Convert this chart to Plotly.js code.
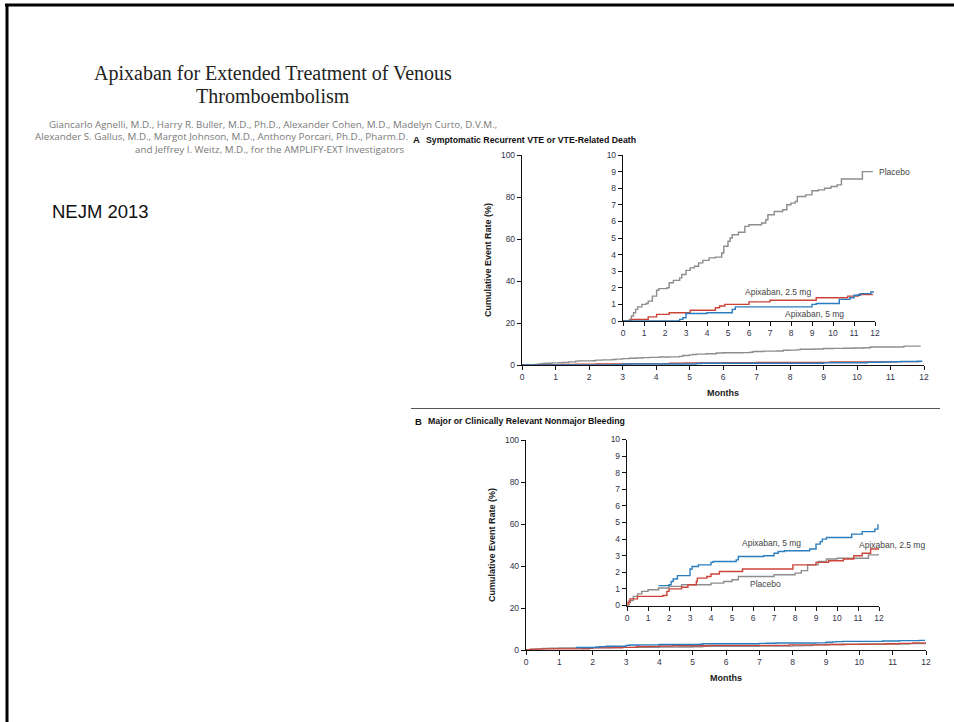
<!DOCTYPE html>
<html>
<head>
<meta charset="utf-8">
<script src="https://cdn.plot.ly/plotly-3.0.1.min.js"></script>
<style>
  html, body { margin: 0; padding: 0; background: #ffffff; }
  #chart { width: 954px; height: 722px; }
</style>
</head>
<body>
<div id="chart"></div>
<script>
// ---------- Data ----------
// Panel A: Symptomatic Recurrent VTE or VTE-Related Death (cumulative %, by month)
const aPlaceboMonths = [0, 0.3, 0.4, 0.5, 0.6, 0.7, 0.9, 1.1, 1.2, 1.4, 1.6, 1.7, 2.1, 2.2, 2.4, 2.7, 2.8, 3.0, 3.2, 3.4, 3.6, 3.8, 4.1, 4.4, 4.7, 4.8, 5.0, 5.1, 5.2, 5.5, 5.8, 6.0, 6.6, 6.8, 6.9, 7.2, 7.6, 7.8, 8.0, 8.2, 8.3, 8.7, 9.0, 9.3, 9.6, 9.9, 10.2, 10.4, 11.4, 11.9];
const aPlaceboRate   = [0, 0.1, 0.3, 0.5, 0.7, 0.85, 1.0, 1.05, 1.2, 1.5, 1.85, 1.95, 2.0, 2.3, 2.45, 2.6, 2.8, 3.05, 3.2, 3.3, 3.5, 3.65, 3.8, 3.85, 4.1, 4.5, 4.8, 5.0, 5.2, 5.35, 5.7, 5.8, 5.9, 6.1, 6.4, 6.6, 6.7, 7.0, 7.1, 7.2, 7.5, 7.6, 7.85, 7.9, 8.0, 8.1, 8.2, 8.55, 9.0, 9.0];
const aLowMonths  = [0, 0.4, 1.2, 1.6, 2.2, 3.2, 4.4, 4.6, 4.85, 6.0, 7.0, 9.2, 10.7, 11.2, 11.9];
const aLowRate    = [0, 0.1, 0.25, 0.4, 0.5, 0.65, 0.8, 0.9, 1.0, 1.15, 1.25, 1.4, 1.5, 1.6, 1.6];
const aHighMonths = [0, 2.7, 2.85, 3.0, 4.0, 5.2, 5.35, 9.0, 9.2, 10.3, 10.8, 11.0, 11.3, 11.8, 11.95];
const aHighRate   = [0, 0.1, 0.2, 0.45, 0.5, 0.7, 0.85, 1.0, 1.05, 1.3, 1.4, 1.55, 1.65, 1.75, 1.75];

// Panel B: Major or Clinically Relevant Nonmajor Bleeding
const bHighMonths = [1.5, 2.0, 2.1, 2.2, 2.4, 3.0, 3.1, 3.4, 4.0, 4.1, 5.2, 5.3, 6.5, 7.0, 7.2, 7.5, 8.7, 9.0, 9.2, 9.3, 9.5, 10.7, 11.2, 11.8, 11.95];
const bHighRate   = [1.2, 1.25, 1.45, 1.6, 1.8, 2.2, 2.35, 2.45, 2.6, 2.65, 2.75, 2.95, 3.0, 3.15, 3.25, 3.3, 3.4, 3.7, 3.85, 4.0, 4.1, 4.3, 4.45, 4.6, 4.9];
const bLowMonths  = [0, 0.05, 0.15, 0.5, 1.7, 1.9, 2.0, 2.6, 2.9, 3.3, 3.35, 3.8, 4.0, 4.4, 5.5, 7.9, 9.0, 9.6, 10.3, 10.8, 11.2, 11.6, 12.0];
const bLowRate    = [0, 0.2, 0.4, 0.55, 0.6, 0.85, 1.0, 1.1, 1.25, 1.45, 1.65, 1.75, 1.9, 2.05, 2.2, 2.45, 2.6, 2.7, 2.8, 3.0, 3.15, 3.4, 3.4];
const bPlaceboMonths = [0, 0.1, 0.3, 0.5, 0.7, 1.0, 1.5, 2.0, 2.6, 4.0, 4.6, 5.0, 5.3, 7.0, 8.0, 8.3, 8.6, 9.1, 9.5, 10.0, 11.5, 12.0];
const bPlaceboRate   = [0, 0.3, 0.55, 0.7, 0.85, 0.95, 1.05, 1.15, 1.25, 1.35, 1.45, 1.55, 1.75, 1.85, 1.95, 2.1, 2.45, 2.65, 2.8, 2.85, 3.05, 3.05];

const seriesNames = ['Placebo', 'Apixaban, 2.5 mg', 'Apixaban, 5 mg'];
const monthTicks = [0,1,2,3,4,5,6,7,8,9,10,11,12];
const mainTicks = [0, 20, 40, 60, 80, 100];
const insetTicks = [0,1,2,3,4,5,6,7,8,9,10];

// ---------- Styling ----------
const W = 954, H = 722;
const px = x => x / W;
const py = y => 1 - y / H;
const GRAY = '#8d8d8d', RED = '#cc4438', BLUE = '#2a7dbf';
const FONT = 'Liberation Sans, Arial, sans-serif';
const TICKCOL = '#33334a';

function line(x, y, color, xa, ya, name) {
  return { type: 'scatter', mode: 'lines', x: x, y: y, xaxis: xa, yaxis: ya, name: name,
           line: { color: color, width: 1.4, shape: 'hv' }, hoverinfo: 'skip', showlegend: false };
}

const traces = [
  line(aPlaceboMonths, aPlaceboRate, GRAY, 'x', 'y', seriesNames[0]),
  line(aLowMonths, aLowRate, RED, 'x', 'y', seriesNames[1]),
  line(aHighMonths, aHighRate, BLUE, 'x', 'y', seriesNames[2]),
  line(aPlaceboMonths, aPlaceboRate, GRAY, 'x2', 'y2', seriesNames[0]),
  line(aLowMonths, aLowRate, RED, 'x2', 'y2', seriesNames[1]),
  line(aHighMonths, aHighRate, BLUE, 'x2', 'y2', seriesNames[2]),
  line(bPlaceboMonths, bPlaceboRate, GRAY, 'x3', 'y3', seriesNames[0]),
  line(bLowMonths, bLowRate, RED, 'x3', 'y3', seriesNames[1]),
  line(bHighMonths, bHighRate, BLUE, 'x3', 'y3', seriesNames[2]),
  line(bPlaceboMonths, bPlaceboRate, GRAY, 'x4', 'y4', seriesNames[0]),
  line(bLowMonths, bLowRate, RED, 'x4', 'y4', seriesNames[1]),
  line(bHighMonths, bHighRate, BLUE, 'x4', 'y4', seriesNames[2])
];

function axis(extra) {
  return Object.assign({
    showgrid: false, zeroline: false, showline: true, linecolor: '#111', linewidth: 1.2,
    ticks: 'outside', ticklen: 4, tickwidth: 1, tickcolor: '#111',
    tickfont: { family: FONT, size: 8.5, color: TICKCOL }, fixedrange: true
  }, extra);
}

const yTitleFont = { family: FONT, size: 9, color: '#1a1a1a' };
const xTitle = { text: '<b>Months</b>', font: { family: FONT, size: 9, color: '#1a1a1a' }, standoff: 8 };

const layout = {
  width: W, height: H,
  margin: { l: 0, r: 0, t: 0, b: 0 },
  paper_bgcolor: '#ffffff', plot_bgcolor: 'rgba(0,0,0,0)',
  showlegend: false,
  // Panel A main
  xaxis:  axis({ domain: [px(522), px(924)], range: [0, 12], tickvals: monthTicks, anchor: 'y', title: xTitle }),
  yaxis:  axis({ domain: [py(365), py(155)], range: [0, 100], tickvals: mainTicks, anchor: 'x',
                 title: { text: '<b>Cumulative Event Rate (%)</b>', font: yTitleFont, standoff: 7 } }),
  // Panel A inset
  xaxis2: axis({ domain: [px(623), px(875)], range: [0, 12], tickvals: monthTicks, anchor: 'y2' }),
  yaxis2: axis({ domain: [py(321), py(155)], range: [0, 10], tickvals: insetTicks, anchor: 'x2' }),
  // Panel B main
  xaxis3: axis({ domain: [px(526), px(926)], range: [0, 12], tickvals: monthTicks, anchor: 'y3', title: xTitle }),
  yaxis3: axis({ domain: [py(650), py(440)], range: [0, 100], tickvals: mainTicks, anchor: 'x3',
                 title: { text: '<b>Cumulative Event Rate (%)</b>', font: yTitleFont, standoff: 7 } }),
  // Panel B inset
  xaxis4: axis({ domain: [px(627), px(879)], range: [0, 12], tickvals: monthTicks, anchor: 'y4' }),
  yaxis4: axis({ domain: [py(605.5), py(439.5)], range: [0, 10], tickvals: insetTicks, anchor: 'x4' }),
  shapes: [
    { type: 'line', xref: 'paper', yref: 'paper', x0: px(5), x1: px(954), y0: py(5), y1: py(5), line: { color: '#000', width: 3 } },
    { type: 'line', xref: 'paper', yref: 'paper', x0: px(7), x1: px(7), y0: py(4), y1: py(722), line: { color: '#000', width: 3 } },
    { type: 'line', xref: 'paper', yref: 'paper', x0: px(411), x1: px(940), y0: py(408.5), y1: py(408.5), line: { color: '#555', width: 1 } }
  ],
  annotations: []
};

function note(text, x, y, opts) {
  return Object.assign({ text: text, xref: 'paper', yref: 'paper', x: px(x), y: py(y),
    xanchor: 'center', yanchor: 'middle', showarrow: false,
    font: { family: FONT, size: 8, color: '#222' } }, opts || {});
}
const SERIF = 'Liberation Serif, Times New Roman, serif';
const ANN = layout.annotations;
ANN.push(note('Apixaban for Extended Treatment of Venous', 273, 73, { font: { family: SERIF, size: 20, color: '#222' } }));
ANN.push(note('Thromboembolism', 273, 96, { font: { family: SERIF, size: 20, color: '#222' } }));
const AUTH = { family: 'Open Sans, Liberation Sans, sans-serif', size: 9.8, color: '#7a7a7a' };
ANN.push(note('Giancarlo Agnelli, M.D., Harry R. Buller, M.D., Ph.D., Alexander Cohen, M.D., Madelyn Curto, D.V.M.,', 273, 124, { font: AUTH }));
ANN.push(note('Alexander S. Gallus, M.D., Margot Johnson, M.D., Anthony Porcari, Ph.D., Pharm.D.', 33, 136.5, { xanchor: 'left', font: AUTH }));
ANN.push(note('and Jeffrey I. Weitz, M.D., for the AMPLIFY-EXT Investigators', 407, 149, { xanchor: 'right', font: AUTH }));
ANN.push(note('NEJM 2013', 50, 211, { xanchor: 'left', font: { family: 'Liberation Sans, Arial, sans-serif', size: 18.5, color: '#111' } }));

ANN.push(note('<b>A</b>', 411, 139.5, { xanchor: 'left', font: { family: FONT, size: 9.5, color: '#111' } }));
ANN.push(note('<b>Symptomatic Recurrent VTE or VTE-Related Death</b>', 424, 139.5, { xanchor: 'left', font: { family: FONT, size: 8.75, color: '#111' } }));
ANN.push(note('<b>B</b>', 413, 421, { xanchor: 'left', font: { family: FONT, size: 9.5, color: '#111' } }));
ANN.push(note('<b>Major or Clinically Relevant Nonmajor Bleeding</b>', 426, 421, { xanchor: 'left', font: { family: FONT, size: 8.75, color: '#111' } }));

const LBL = { family: FONT, size: 8.5, color: '#444' };
function dlabel(text, xa, ya, x, y, anchor) {
  return { text: text, xref: xa, yref: ya, x: x, y: y, xanchor: anchor || 'center', yanchor: 'middle',
           showarrow: false, font: LBL };
}
ANN.push(note('Placebo', 877, 172, { xanchor: 'left', font: LBL }));
ANN.push(dlabel('Apixaban, 2.5 mg', 'x2', 'y2', 7.4, 1.72));
ANN.push(dlabel('Apixaban, 5 mg', 'x2', 'y2', 9.1, 0.45));
ANN.push(dlabel('Apixaban, 5 mg', 'x4', 'y4', 6.9, 3.76));
ANN.push(note('Apixaban, 2.5 mg', 857, 544.5, { xanchor: 'left', font: LBL }));
ANN.push(dlabel('Placebo', 'x4', 'y4', 6.6, 1.28));

Plotly.newPlot('chart', traces, layout, { staticPlot: true, displayModeBar: false });
</script>
</body>
</html>
